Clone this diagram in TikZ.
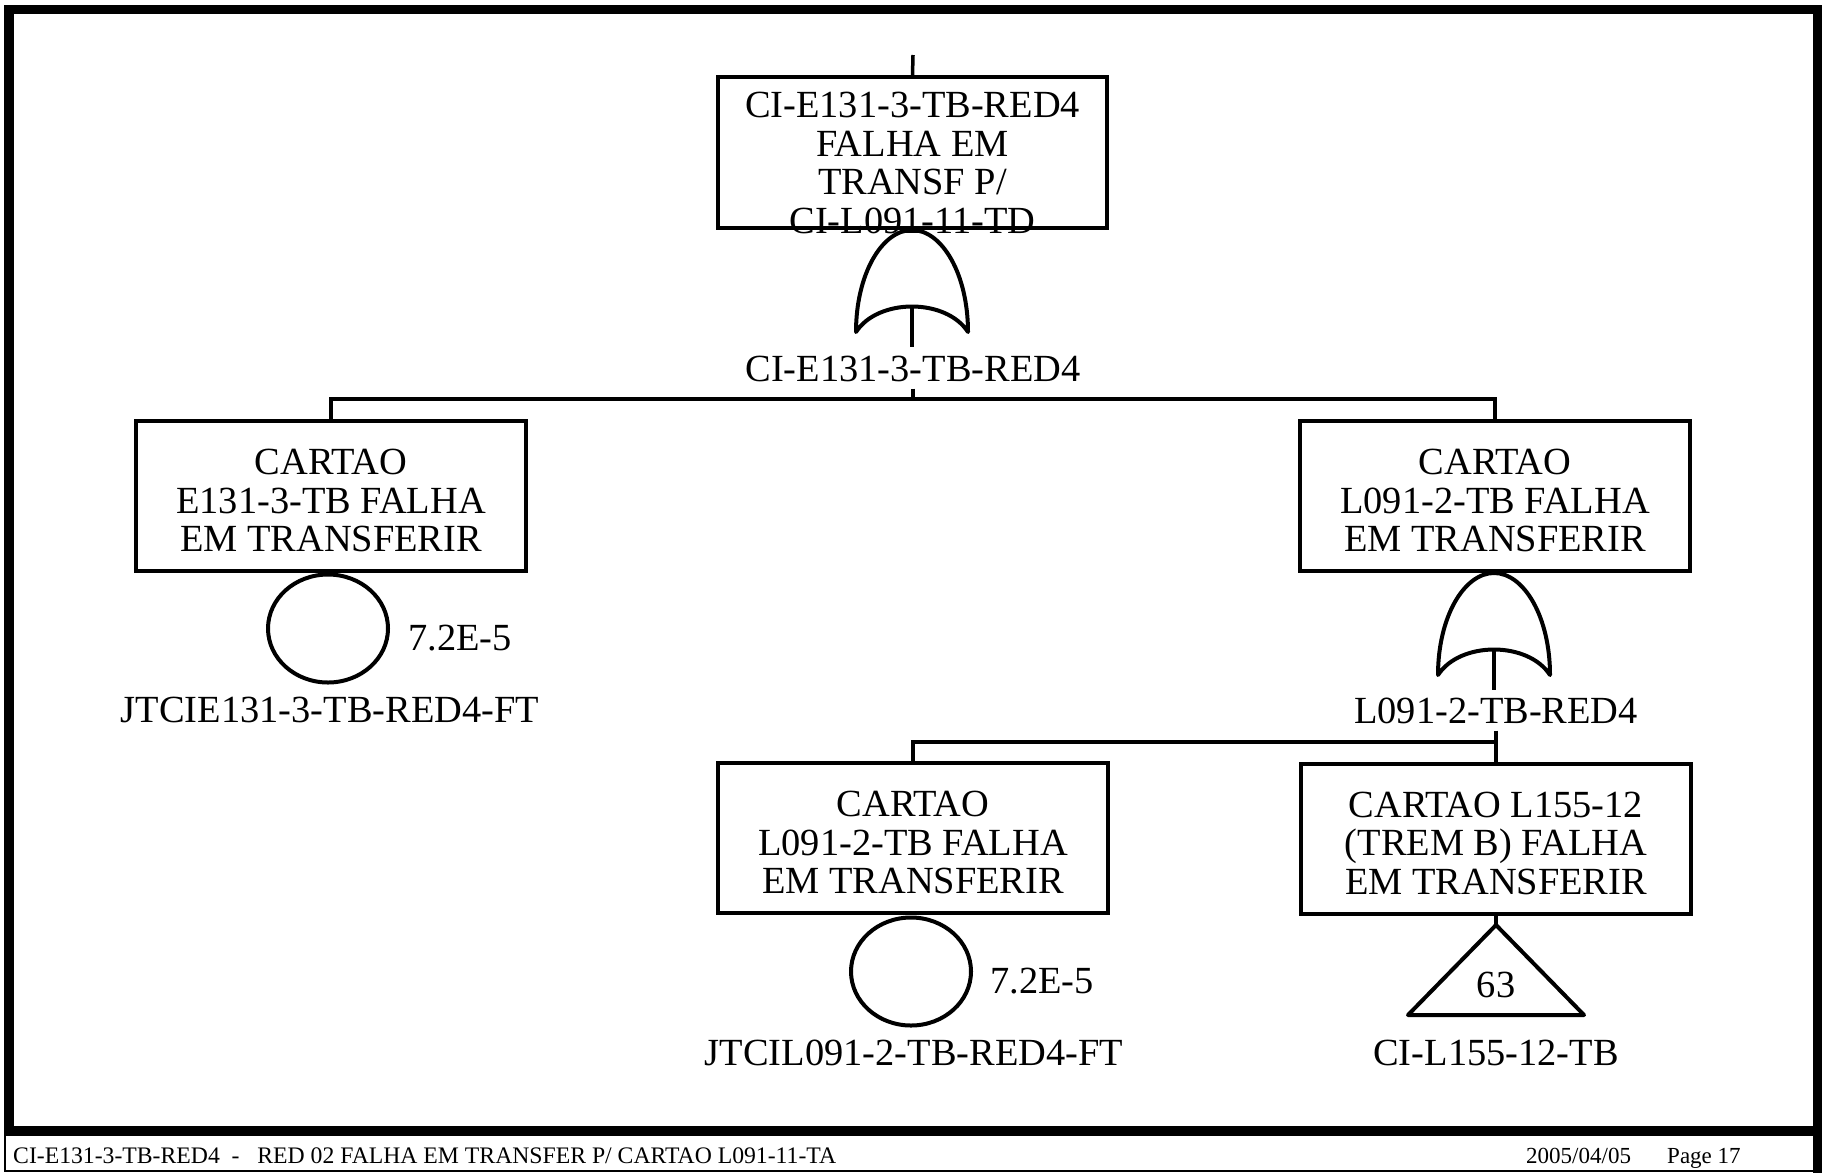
\documentclass[tikz,border=0pt]{standalone}
\usepackage{fontspec}
\setmainfont{Liberation Serif}
\usetikzlibrary{shapes.geometric}

\newcommand{\ftbig}{\fontsize{38.4pt}{38.4pt}\selectfont}
\newcommand{\ftfoot}{\fontsize{23pt}{23pt}\selectfont}
\newcommand{\boxstrut}{\rule{0pt}{34.6pt}}

\begin{document}
\begin{tikzpicture}[x=1pt, y=-1pt,
  evbox/.style={draw, line width=4pt, minimum width=390pt, minimum height=150pt,
    inner sep=0pt, align=center, font=\ftbig},
  evtext/.style={inner sep=0pt, align=center, font=\ftbig},
  foot/.style={inner sep=0pt, font=\ftfoot},
  basic/.style={draw, ellipse, line width=4pt, minimum width=120pt,
    minimum height=108pt, inner sep=0pt},
  wire/.style={line width=3.5pt},
  gateline/.style={line width=4pt, line join=round},
  orgate/.pic={
    \draw[gateline] (-56,0) .. controls (-56,-58) and (-30,-102) .. (0,-102)
      .. controls (30,-102) and (56,-58) .. (56,0)
      .. controls (34,-34) and (-34,-34) .. cycle;
    \draw[wire] (0,-26) -- (0,15);
  }]
  \useasboundingbox (0,0) rectangle (1822,1173);

  % frame and footer
  \draw[line width=9.5pt] (9,9.5) rectangle (1817.5,1131);
  \draw[line width=2pt] (5,1131) -- (5,1171) -- (1817,1171);
  \draw[line width=9.5pt] (1817.5,1131) -- (1817.5,1173);
  \node[foot, font=\fontsize{23.7pt}{23.7pt}\selectfont, anchor=base west] (ftl) at (13,1163)
    {CI-E131-3-TB-RED4\ \ -\ \ \ RED 02 FALHA EM TRANSFER P/ CARTAO L091-11-TA};
  \node[foot, anchor=base west] (ftd) at (1526,1163) {2005/04/05};
  \node[foot, anchor=base west] (ftp) at (1667,1163) {Page 17};

  % top event
  \coordinate (topin) at (913,55);
  \node[evbox, minimum width=389pt, minimum height=151pt] (top) at (912.5,152.5) {};
  \node[evtext] (toptxt) at (912.5,163) {CI-E131-3-TB-RED4\\FALHA EM\\TRANSF P/\\CI-L091-11-TD};
  \draw[wire] (topin) -- (top.north);
  \pic at (912,332) {orgate};
  \node[evtext, anchor=base] (g1lbl) at (913,381) {CI-E131-3-TB-RED4};

  % first level
  \coordinate (bus1) at (913,399);
  \node[evbox] (lbox) at (331,496) {\boxstrut CARTAO\\E131-3-TB FALHA\\EM TRANSFERIR};
  \node[evbox] (rbox) at (1495,496) {\boxstrut CARTAO\\L091-2-TB FALHA\\EM TRANSFERIR};
  \draw[wire] ([yshift=-7pt]g1lbl.south) -- (bus1);
  \draw[wire] (lbox.north) |- (bus1) -| (rbox.north);

  \node[basic] (e1) at (328,628.5) {};
  \node[evtext, anchor=base west] (p1) at (408,650) {7.2E-5};
  \node[evtext, anchor=base] (n1) at (330,722) {JTCIE131-3-TB-RED4-FT};

  \pic at (1494,675) {orgate};
  \node[evtext, anchor=base] (g2lbl) at (1496,723) {L091-2-TB-RED4};

  % second level
  \coordinate (bus2) at (1496,742);
  \node[evbox] (mbox) at (913,838) {\boxstrut CARTAO\\L091-2-TB FALHA\\EM TRANSFERIR};
  \node[evbox] (rbbox) at (1496,838.5) {\boxstrut CARTAO L155-12\\(TREM B) FALHA\\EM TRANSFERIR};
  \draw[wire] ([yshift=-7pt]g2lbl.south) -- (bus2);
  \draw[wire] (mbox.north) |- (bus2) -- (rbbox.north);

  \node[basic] (e2) at (911,971.5) {};
  \node[evtext, anchor=base west] (p2) at (990,993) {7.2E-5};
  \node[evtext, anchor=base] (n2) at (914,1065) {JTCIL091-2-TB-RED4-FT};

  \coordinate (t1) at (1496,925);
  \draw[wire] (rbbox.south) -- (t1);
  \draw[gateline] (t1) -- (1408,1015) -- (1584,1015) -- cycle;
  \node[evtext, anchor=base] (t1num) at (1496,997) {63};
  \node[evtext, anchor=base] (t1lbl) at (1496,1065) {CI-L155-12-TB};
\end{tikzpicture}
\end{document}
